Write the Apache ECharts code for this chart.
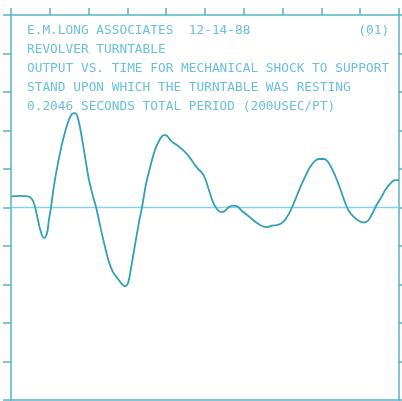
<!DOCTYPE html>
<html><head><meta charset="utf-8">
<script src="https://cdn.jsdelivr.net/npm/echarts@6/dist/echarts.min.js"></script>
<style>html,body{margin:0;padding:0;background:#fff}#c{width:402px;height:401px}</style>
</head><body><div id="c"></div>
<script>
// time in ms, output in arbitrary divisions
const timeMs = [0,4.7,9.0,10.5,11.6,12.7,14.2,15.8,17.4,19.0,20.0,21.1,22.7,24.8,27.4,30.1,32.2,33.7,35.3,37.4,39.5,41.1,43.2,44.8,46.9,49.6,51.7,53.8,56.4,58.5,60.1,61.7,63.3,65.4,67.5,69.1,71.2,73.3,75.9,78.6,80.7,82.3,84.4,87.5,91.2,94.4,97.0,99.1,100.7,102.3,104.4,106.5,108.6,110.7,112.8,114.9,117.1,119.2,121.8,124.4,127.1,129.7,132.4,135.0,137.6,140.8,143.4,145.5,147.6,149.8,152.4,155.0,157.7,160.3,162.4,165.1,167.2,169.8,171.9,174.0,176.1,178.2,180.9,183.5,186.2,188.2,190.4,192.5,195.1,197.7,200.4,202.5,204.6];
const output = [0.29,0.30,0.29,0.25,0.17,0.01,-0.32,-0.64,-0.79,-0.66,-0.32,0.01,0.58,1.16,1.75,2.22,2.43,2.45,2.32,1.80,1.18,0.72,0.30,0.02,-0.45,-1.03,-1.42,-1.68,-1.85,-1.99,-2.04,-1.96,-1.57,-0.97,-0.38,0.01,0.61,1.03,1.49,1.78,1.88,1.86,1.73,1.62,1.47,1.29,1.10,0.98,0.90,0.76,0.45,0.14,-0.04,-0.12,-0.09,0.01,0.05,0.03,-0.09,-0.19,-0.30,-0.40,-0.48,-0.51,-0.47,-0.45,-0.38,-0.25,-0.06,0.19,0.51,0.79,1.05,1.21,1.26,1.26,1.18,0.95,0.71,0.43,0.14,-0.09,-0.25,-0.35,-0.39,-0.35,-0.17,0.04,0.25,0.48,0.64,0.71,0.71];
const titleLines = [
  "E.M.LONG ASSOCIATES  12-14-88              (01)",
  "REVOLVER TURNTABLE",
  "OUTPUT VS. TIME FOR MECHANICAL SHOCK TO SUPPORT",
  "STAND UPON WHICH THE TURNTABLE WAS RESTING",
  "0.2046 SECONDS TOTAL PERIOD (200USEC/PT)"
];
const xMin = 0, xMax = 204.6, xInterval = 20.46;
const yMin = -5, yMax = 5, yInterval = 1;

const frame = '#55b2c8';
const axBase = (pos, showTick, len) => ({
  type: 'value', position: pos, min: pos==='top'||pos==='bottom'?xMin:yMin,
  max: pos==='top'||pos==='bottom'?xMax:yMax,
  interval: pos==='top'||pos==='bottom'?xInterval:yInterval,
  axisLine: {show: true, onZero: false, lineStyle: {color: frame, width: 1.5}},
  axisTick: {show: showTick, inside: false, length: len, lineStyle: {color: frame, width: 1.5}},
  axisLabel: {show: false}, splitLine: {show: false}
});

const chart = echarts.init(document.getElementById('c'), null, {renderer: 'canvas'});
chart.setOption({
  animation: false,
  backgroundColor: '#ffffff',
  grid: {left: 11, right: 3, top: 15, bottom: 1, containLabel: false},
  title: {
    text: titleLines.join('\n'), left: 27, top: 21, padding: 0,
    textStyle: {fontFamily: 'DejaVu Sans Mono', fontSize: 12.8, fontWeight: 'normal', color: '#6cbfe0', lineHeight: 19}
  },
  xAxis: [axBase('top', true, 7), axBase('bottom', false, 0)],
  yAxis: [axBase('left', true, 8), axBase('right', true, 4)],
  series: [
    {type: 'line', xAxisIndex: 0, yAxisIndex: 0, data: [[xMin,0],[xMax,0]], showSymbol: false,
     lineStyle: {color: '#86d2ea', width: 1.5}, z: 1},
    {type: 'line', xAxisIndex: 0, yAxisIndex: 0, data: timeMs.map((t,i)=>[t, output[i]]),
     showSymbol: false, smooth: 0.4, lineStyle: {color: '#329fbc', width: 1.8}, z: 2}
  ]
});
</script></body></html>
